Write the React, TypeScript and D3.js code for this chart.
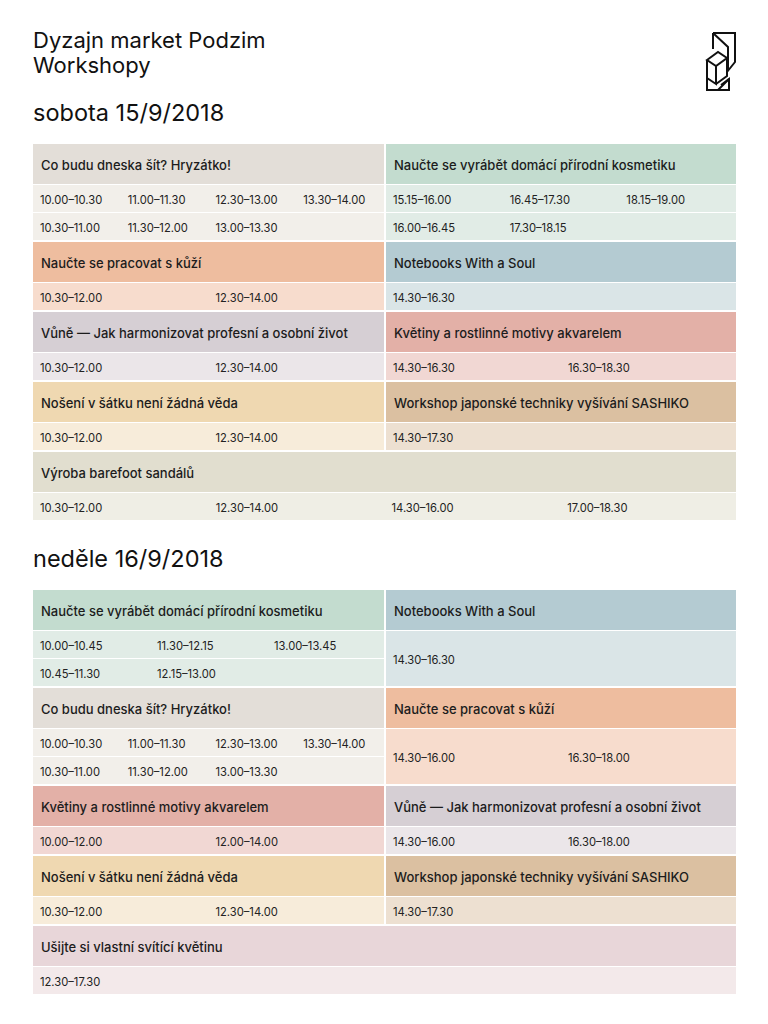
import React from "react";
import * as d3 from "d3";

// workshop titles
const titles: Record<string, string> = {
  coBudu: "Co budu dneska šít? Hryzátko!",
  kosmetika: "Naučte se vyrábět domácí přírodní kosmetiku",
  kuze: "Naučte se pracovat s kůží",
  notebooks: "Notebooks With a Soul",
  vune: "Vůně — Jak harmonizovat profesní a osobní život",
  kvetiny: "Květiny a rostlinné motivy akvarelem",
  noseni: "Nošení v šátku není žádná věda",
  sashiko: "Workshop japonské techniky vyšívání SASHIKO",
  barefoot: "Výroba barefoot sandálů",
  svitici: "Ušijte si vlastní svítící květinu",
};

// day layout: [left, right] pairs, then one full-width block
const satPairs = [
  ["coBudu", "kosmetika"],
  ["kuze", "notebooks"],
  ["vune", "kvetiny"],
  ["noseni", "sashiko"],
];
const satFull = "barefoot";

const sunPairs = [
  ["kosmetika", "notebooks"],
  ["coBudu", "kuze"],
  ["kvetiny", "vune"],
  ["noseni", "sashiko"],
];
const sunFull = "svitici";

// time slots, one inner array per sub-row
const satTimes: Record<string, string[][]> = {
  coBudu: [
    ["10.00–10.30", "11.00–11.30", "12.30–13.00", "13.30–14.00"],
    ["10.30–11.00", "11.30–12.00", "13.00–13.30"],
  ],
  kosmetika: [
    ["15.15–16.00", "16.45–17.30", "18.15–19.00"],
    ["16.00–16.45", "17.30–18.15"],
  ],
  kuze: [["10.30–12.00", "12.30–14.00"]],
  notebooks: [["14.30–16.30"]],
  vune: [["10.30–12.00", "12.30–14.00"]],
  kvetiny: [["14.30–16.30", "16.30–18.30"]],
  noseni: [["10.30–12.00", "12.30–14.00"]],
  sashiko: [["14.30–17.30"]],
  barefoot: [["10.30–12.00", "12.30–14.00", "14.30–16.00", "17.00–18.30"]],
};

const sunTimes: Record<string, string[][]> = {
  kosmetika: [
    ["10.00–10.45", "11.30–12.15", "13.00–13.45"],
    ["10.45–11.30", "12.15–13.00"],
  ],
  notebooks: [["14.30–16.30"]],
  coBudu: [
    ["10.00–10.30", "11.00–11.30", "12.30–13.00", "13.30–14.00"],
    ["10.30–11.00", "11.30–12.00", "13.00–13.30"],
  ],
  kuze: [["14.30–16.00", "16.30–18.00"]],
  kvetiny: [["10.00–12.00", "12.00–14.00"]],
  vune: [["14.30–16.00", "16.30–18.00"]],
  noseni: [["10.30–12.00", "12.30–14.00"]],
  sashiko: [["14.30–17.30"]],
  svitici: [["12.30–17.30"]],
};

// header colour / body colour
const palette: Record<string, [string, string]> = {
  coBudu: ["#e3ded8", "#f2efea"],
  kosmetika: ["#c3dccf", "#e1ece6"],
  kuze: ["#eebd9f", "#f7dccd"],
  notebooks: ["#b4cbd2", "#dae5e7"],
  vune: ["#d6cfd4", "#ebe6e9"],
  kvetiny: ["#e3b0a7", "#f1d7d3"],
  noseni: ["#efd8b1", "#f7ecda"],
  sashiko: ["#dbc0a1", "#ede0d1"],
  barefoot: ["#e1decf", "#efeee5"],
  svitici: ["#e8d6d9", "#f3e9ea"],
};

const FONT = "Inter, Roboto, 'Noto Sans', sans-serif";
const X0 = 33;
const X1 = 736;
const MID = 385;
const HEAD_H = 40;
const SUB_H = 27;
const SUB_GAP = 1;
const ROW_GAP = 2;

type Cell = { id: string; x: number; w: number; times: string[][] };

function Block({ cell, y, nSub }: { cell: Cell; y: number; nSub: number }) {
  const [head, body] = palette[cell.id];
  const cols = Math.max(2, d3.max(cell.times, (r) => r.length) || 1);
  const xs = d3
    .scaleLinear()
    .domain([0, cols])
    .range([cell.x + 7, cell.x + cell.w + 7]);
  const subTop = y + HEAD_H + SUB_GAP;
  const subTotal = nSub * (SUB_H + SUB_GAP) - SUB_GAP;
  const rowH = cell.times.length === nSub ? SUB_H : subTotal;
  return (
    <g>
      <rect x={cell.x} y={y} width={cell.w} height={HEAD_H} fill={head} />
      <text
        x={cell.x + 8}
        y={y + HEAD_H / 2 + 1}
        dominantBaseline="central"
        fontSize={13}
        fontWeight={500}
        fill="#1c1c1c"
      >
        {titles[cell.id]}
      </text>
      {cell.times.map((row, ri) => {
        const ry = subTop + ri * (SUB_H + SUB_GAP);
        return (
          <g key={ri}>
            <rect x={cell.x} y={ry} width={cell.w} height={rowH} fill={body} />
            {row.map((t, ci) => (
              <text
                key={ci}
                x={xs(ci)}
                y={ry + rowH / 2 + 1}
                dominantBaseline="central"
                fontSize={11.2}
                fill="#222"
              >
                {t}
              </text>
            ))}
          </g>
        );
      })}
    </g>
  );
}

function Day({
  top,
  pairs,
  full,
  times,
}: {
  top: number;
  pairs: string[][];
  full: string;
  times: Record<string, string[][]>;
}) {
  let y = top;
  const out: React.ReactNode[] = [];
  pairs.forEach(([l, r], i) => {
    const nSub = Math.max(times[l].length, times[r].length);
    out.push(
      <Block key={"l" + i} cell={{ id: l, x: X0, w: MID - 1 - X0, times: times[l] }} y={y} nSub={nSub} />,
      <Block key={"r" + i} cell={{ id: r, x: MID + 1, w: X1 - MID - 1, times: times[r] }} y={y} nSub={nSub} />
    );
    y += HEAD_H + nSub * (SUB_H + SUB_GAP) + ROW_GAP - SUB_GAP + 1;
  });
  const nSub = times[full].length;
  out.push(<Block key="full" cell={{ id: full, x: X0, w: X1 - X0, times: times[full] }} y={y} nSub={nSub} />);
  return <g>{out}</g>;
}

function Logo() {
  return (
    <g fill="none" stroke="#111" strokeWidth={2} strokeLinejoin="miter">
      <path d="M713,33 H735 V62 L727,72" />
      <path d="M713,33 V49" />
      <path d="M713,33 L728,47 V70" />
      <path d="M707,60 L718,52 L727,58 L716,66 Z" />
      <path d="M707,60 V78 L716,84 V66" />
      <path d="M716,84 L727,76 V58" />
      <path d="M707,78 V90 H729 V79 L721,85" />
      <path d="M718,90 L729,79" />
    </g>
  );
}

export default function App() {
  return (
    <svg
      width={768}
      height={1024}
      style={{ position: "absolute", left: 0, top: 0, background: "#fff" }}
      fontFamily={FONT}
    >
      <rect width={768} height={1024} fill="#fff" />
      <text x={33} y={48} fontSize={22} fill="#111">
        Dyzajn market Podzim
      </text>
      <text x={33} y={73} fontSize={22} fill="#111">
        Workshopy
      </text>
      <text x={33} y={121} fontSize={23.5} fill="#111">
        sobota 15/9/2018
      </text>
      <text x={33} y={567} fontSize={23.5} fill="#111">
        neděle 16/9/2018
      </text>
      <Logo />
      <Day top={144} pairs={satPairs} full={satFull} times={satTimes} />
      <Day top={590} pairs={sunPairs} full={sunFull} times={sunTimes} />
    </svg>
  );
}
